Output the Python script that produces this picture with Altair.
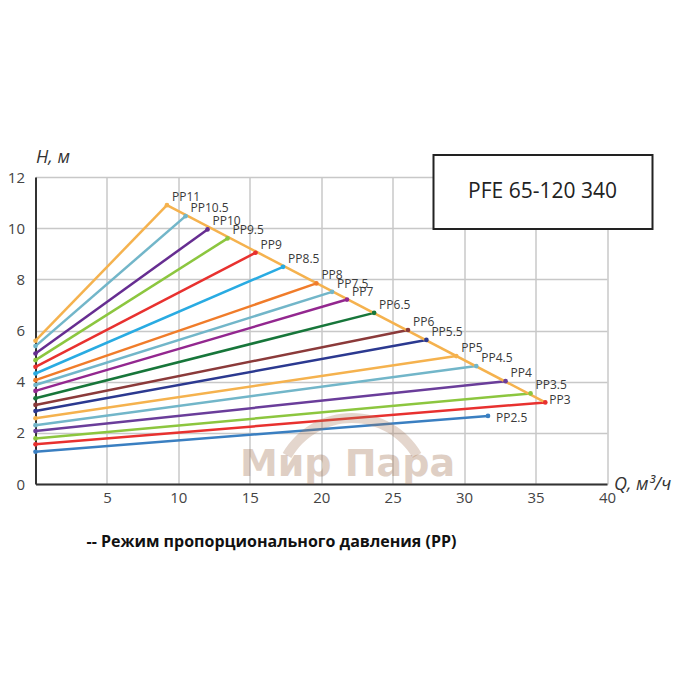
import altair as alt
import pandas as pd

# ---- data ----
names = ["PP2.5", "PP3", "PP3.5", "PP4", "PP4.5", "PP5", "PP5.5", "PP6", "PP6.5",
         "PP7", "PP7.5", "PP8", "PP8.5", "PP9", "PP9.5", "PP10", "PP10.5", "PP11"]
h_start = [1.26, 1.55, 1.78, 2.07, 2.30, 2.57, 2.85, 3.09, 3.35,
           3.64, 3.87, 4.06, 4.32, 4.58, 4.84, 5.10, 5.39, 5.60]
q_end = [31.67, 35.68, 34.65, 32.90, 30.85, 29.45, 27.36, 26.07, 23.70,
         21.80, 20.76, 19.66, 17.33, 15.40, 13.44, 12.04, 10.50, 9.20]
h_end = [2.66, 3.19, 3.54, 4.02, 4.61, 5.00, 5.63, 6.02, 6.69,
         7.21, 7.51, 7.84, 8.49, 9.04, 9.60, 9.95, 10.47, 10.90]
colors = ["#3a7fc1", "#e8312f", "#8cc63f", "#6a3d9a", "#72b6c9", "#f5b24e",
          "#2b3990", "#8b3a3a", "#17763a", "#93278f", "#72b6c9", "#f07c2a",
          "#29abe2", "#e8312f", "#8cc63f", "#662d91", "#72b6c9", "#f5b24e"]
x_ticks = [5, 10, 15, 20, 25, 30, 35, 40]
y_ticks = [0, 2, 4, 6, 8, 10, 12]

# ---- tables ----
rows = []
for n, h0, q1, h1 in zip(names, h_start, q_end, h_end):
    rows.append({"name": n, "Q": 0.0, "H": h0, "end": False})
    rows.append({"name": n, "Q": q1, "H": h1, "end": True})
df = pd.DataFrame(rows)
ends = df[df["end"]].copy()

# envelope (max curve) from PP11 end to PP3 end
i11, i3 = names.index("PP11"), names.index("PP3")
env = pd.DataFrame({"Q": [q_end[i11], q_end[i3]], "H": [h_end[i11], h_end[i3]]})

xs = alt.Scale(domain=[0, 40], nice=False)
ys = alt.Scale(domain=[0, 12], nice=False)
cs = alt.Scale(domain=names, range=colors)
FONT = "Open Sans"

x_axis = alt.Axis(values=x_ticks, grid=True, gridColor="#c8c8c8", gridWidth=1.5,
                  domainColor="#333333", domainWidth=2, ticks=False, labelFlush=False,
                  labelPadding=6, labelFontSize=15, labelColor="#444444", labelFont=FONT,
                  title="Q, м³/ч", titleFont=FONT, titleFontStyle="italic",
                  titleFontWeight="normal", titleFontSize=18, titleColor="#333333",
                  titleX=578, titleY=0, titleAlign="left", titleBaseline="middle",
                  titleAnchor="start")
y_axis = alt.Axis(values=y_ticks, grid=True, gridColor="#c8c8c8", gridWidth=1.5,
                  domainColor="#333333", domainWidth=2, ticks=False, labelFlush=False,
                  labelPadding=11, labelFontSize=15, labelColor="#444444", labelFont=FONT,
                  title="H, м", titleFont=FONT, titleFontStyle="italic",
                  titleFontWeight="normal", titleFontSize=18, titleColor="#333333",
                  titleAngle=0, titleX=0, titleY=-20, titleAlign="left",
                  titleBaseline="middle", titleAnchor="start")

lines = alt.Chart(df).mark_line(strokeWidth=2.5).encode(
    x=alt.X("Q:Q", scale=xs, axis=x_axis),
    y=alt.Y("H:Q", scale=ys, axis=y_axis),
    color=alt.Color("name:N", scale=cs, legend=None),
    detail="name:N",
)

envelope = alt.Chart(env).mark_line(strokeWidth=2.5, color="#f5b24e").encode(
    x=alt.X("Q:Q", scale=xs), y=alt.Y("H:Q", scale=ys)
)

dots = alt.Chart(df).mark_circle(size=22, opacity=1).encode(
    x=alt.X("Q:Q", scale=xs), y=alt.Y("H:Q", scale=ys),
    color=alt.Color("name:N", scale=cs, legend=None),
)

special = ["PP3", "PP2.5"]
labels_main = alt.Chart(ends).transform_filter(
    ~alt.FieldOneOfPredicate(field="name", oneOf=special)
).mark_text(align="left", baseline="middle", dx=5, dy=-8, fontSize=12,
            font=FONT, color="#3a3a3a").encode(
    x=alt.X("Q:Q", scale=xs), y=alt.Y("H:Q", scale=ys), text="name:N"
)
labels_pp3 = alt.Chart(ends).transform_filter(
    alt.FieldEqualPredicate(field="name", equal="PP3")
).mark_text(align="left", baseline="middle", dx=4, dy=-2, fontSize=12,
            font=FONT, color="#3a3a3a").encode(
    x=alt.X("Q:Q", scale=xs), y=alt.Y("H:Q", scale=ys), text="name:N"
)
labels_pp25 = alt.Chart(ends).transform_filter(
    alt.FieldEqualPredicate(field="name", equal="PP2.5")
).mark_text(align="left", baseline="middle", dx=8, dy=2, fontSize=12,
            font=FONT, color="#3a3a3a").encode(
    x=alt.X("Q:Q", scale=xs), y=alt.Y("H:Q", scale=ys), text="name:N"
)

# title box
box = alt.Chart(pd.DataFrame({"t": ["PFE 65-120 340"]})).mark_rect(
    fill="white", stroke="#222222", strokeWidth=2
).encode(x=alt.value(398), x2=alt.value(617), y=alt.value(-22), y2=alt.value(52))
box_text = alt.Chart(pd.DataFrame({"t": ["PFE 65-120 340"]})).mark_text(
    fontSize=21, font=FONT, color="#222222", align="center", baseline="middle"
).encode(x=alt.value(507), y=alt.value(15), text="t:N")

# watermark (arch + text)
wm_arc = alt.Chart(pd.DataFrame({"t": ["arc"]})).mark_arc(
    theta=5.236, theta2=7.330, radius=80, radius2=70, color="#a47758", opacity=0.3
).encode(x=alt.value(316.5), y=alt.value(316))
wm = alt.Chart(pd.DataFrame({"t": ["Мир Пара"]})).mark_text(
    fontSize=38, font="DejaVu Sans", fontWeight="bold", color="#a47758", opacity=0.35,
    align="center", baseline="middle"
).encode(x=alt.value(312), y=alt.value(288), text="t:N")

# footnote
foot = alt.Chart(pd.DataFrame({"t": ["-- Режим пропорционального давления (PP)"]})).mark_text(
    fontSize=16, font=FONT, fontWeight="bold", color="#111111",
    align="left", baseline="middle"
).encode(x=alt.value(51), y=alt.value(365), text="t:N")

chart = alt.layer(
    lines, envelope, dots, labels_main, labels_pp3, labels_pp25, box, box_text,
    wm_arc, wm, foot
).properties(
    width=571.5, height=307,
    autosize=alt.AutoSizeParams(type="none"),
    padding={"left": 27.5, "top": 169, "right": 85, "bottom": 80},
    background="white",
).configure_view(stroke=None)

chart.save("out.html", embed_options={"renderer": "svg", "actions": False})
